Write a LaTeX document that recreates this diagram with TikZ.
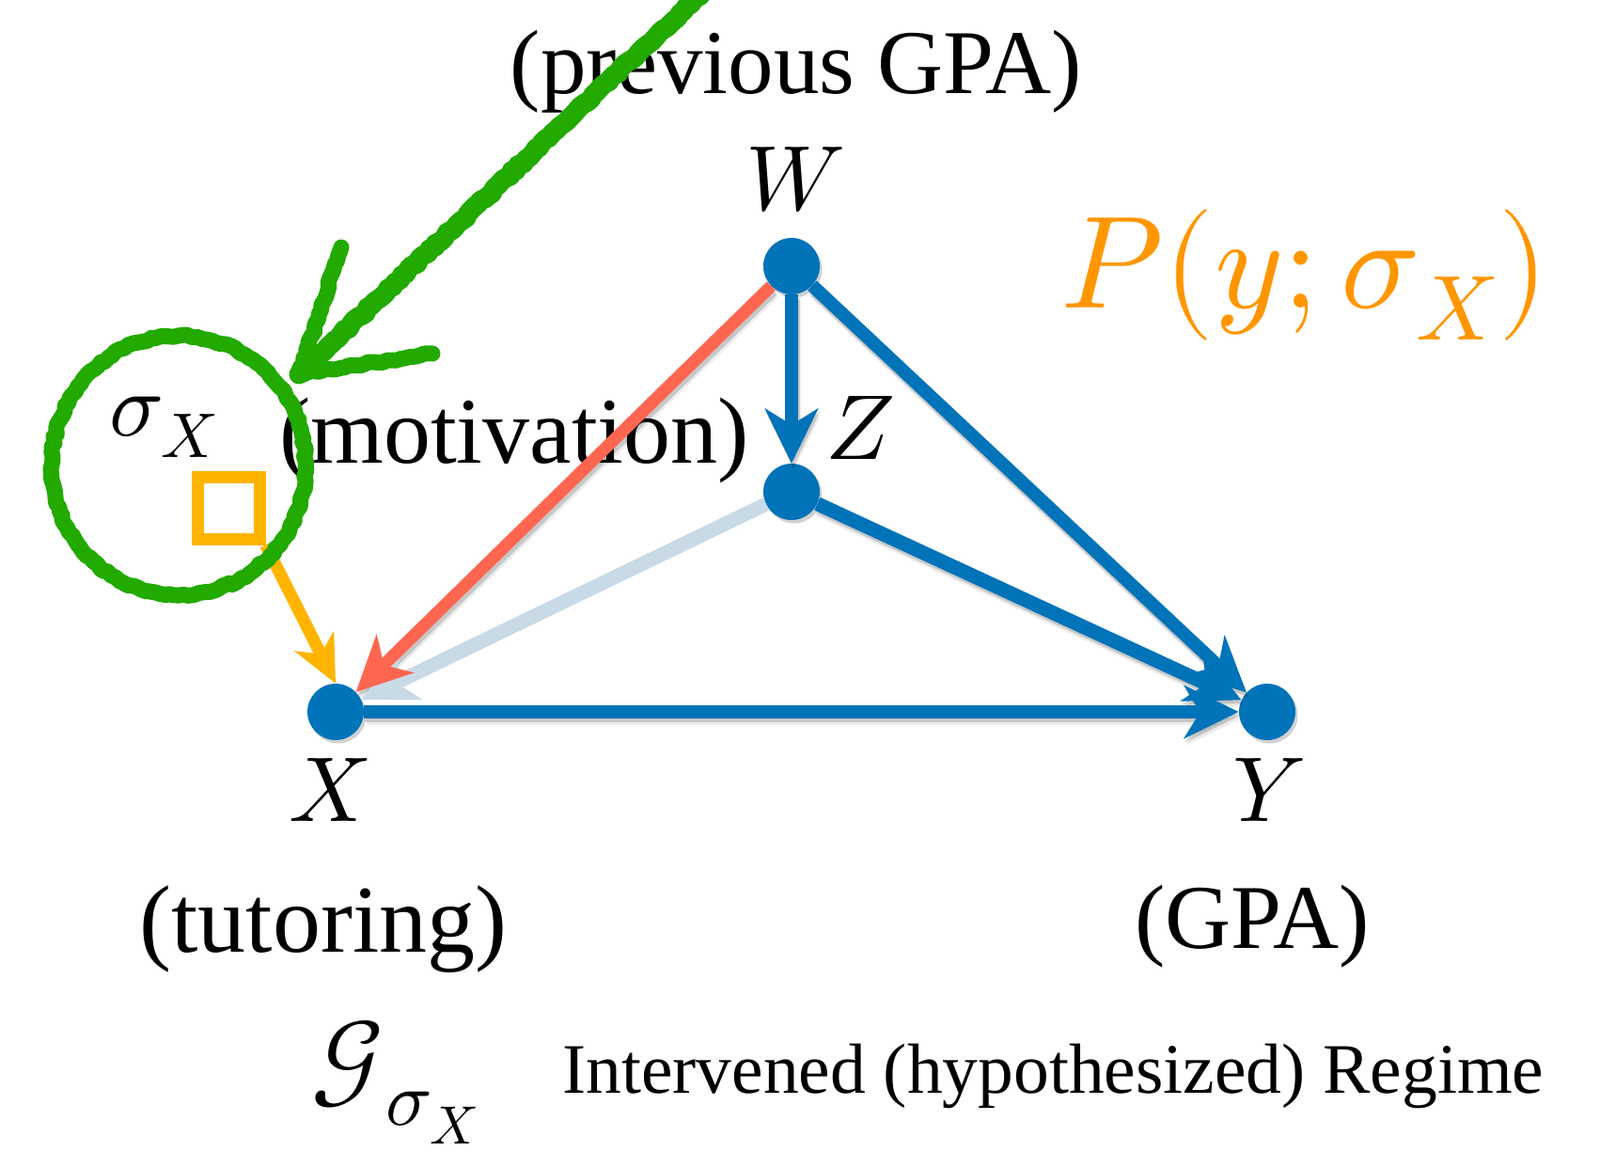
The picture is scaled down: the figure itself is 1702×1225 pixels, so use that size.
\documentclass[tikz,border=0pt]{standalone}
\usepackage{fontspec}
\usepackage{unicode-math}
\setmainfont{Liberation Serif}
\setmathfont{Latin Modern Math}
\usetikzlibrary{arrows.meta,shadows,decorations.pathmorphing}

\definecolor{nodeblue}{RGB}{0,115,185}
\definecolor{edgered}{RGB}{255,102,80}
\definecolor{ptext}{RGB}{255,150,0}
\definecolor{sqorange}{RGB}{255,180,0}
\definecolor{chalk}{RGB}{34,170,0}
\definecolor{fadeblue}{RGB}{200,218,230}

\begin{document}
\begin{tikzpicture}[x=1pt,y=-1pt,
  dot/.style={circle,fill=nodeblue,minimum size=60pt,inner sep=0pt,
    drop shadow={shadow xshift=2.5pt,shadow yshift=-3.5pt,opacity=0.3,fill=black!60}},
  lbl/.style={inner sep=0pt,anchor=base},
  vlbl/.style={inner sep=0pt,anchor=base,font=\fontsize{98}{98}\selectfont},
  mlbl/.style={inner sep=0pt,anchor=base west},
  edgearrow/.style={line width=14pt,-{Stealth[length=58pt,width=56pt,inset=17pt]}},
  edgeshadowA/.style={edgearrow,black,opacity=0.16,transform canvas={shift={(1.5pt,-4pt)}}},
  edgeshadowB/.style={edgearrow,black,opacity=0.07,transform canvas={shift={(2.5pt,-7pt)}}},
  chalkline/.style={chalk,line width=17pt,line cap=round,line join=round,
    decorate,decoration={random steps,segment length=5pt,amplitude=1.5pt}},
]
\useasboundingbox (0,0) rectangle (1702,1225);

% texts
\node[lbl,font=\fontsize{97}{97}\selectfont] (prev) at (847,100) {(previous GPA)};
\node[lbl,font=\fontsize{100}{100}\selectfont] (mot) at (547,492) {(motivation)};
\node[lbl,font=\fontsize{102}{102}\selectfont] (tut) at (344,1012) {(tutoring)};
\node[lbl,font=\fontsize{97}{97}\selectfont] (gpa) at (1332,1008) {(GPA)};
\node[vlbl] (Wl) at (846,223) {$W$};
\node[vlbl] (Zl) at (915,488) {$Z$};
\node[vlbl] (Xl) at (351,873) {$X$};
\node[vlbl] (Yl) at (1350,873) {$Y$};
\node[mlbl,font=\fontsize{96}{96}\selectfont] (sig) at (116,463) {$\sigma_X$};
\node[mlbl,text=ptext,font=\fontsize{140}{140}\selectfont] (P) at (1128,327) {$P(y;\sigma_X)$};
\node[mlbl,font=\fontsize{112}{112}\selectfont] (G) at (331,1163) {$\mathcal{G}$};
\node[mlbl,font=\fontsize{82}{82}\selectfont] (Gs) at (410,1196) {$\sigma_X$};
\node[mlbl,font=\fontsize{75.5}{75.5}\selectfont] (reg) at (598,1162) {Intervened (hypothesized) Regime};

% nodes
\node[dot] (W) at (842,283) {};
\node[dot] (Z) at (842,523) {};
\node[dot] (X) at (357,757) {};
\node[dot] (Y) at (1348,757) {};

% edge shadows
\foreach \a/\b in {W/X,W/Z,W/Y,Z/Y,X/Y}{
  \draw[edgeshadowB] (\a) -- (\b);
  \draw[edgeshadowA] (\a) -- (\b);
}

% edges
\draw[edgearrow,fadeblue,line width=15pt] (Z) -- (X);
\draw[edgearrow,edgered,line width=13pt] (W) -- (X);
\draw[edgearrow,nodeblue] (W) -- (Z);
\draw[edgearrow,nodeblue] (W) -- (Y);
\draw[edgearrow,nodeblue,line width=15pt] (Z) -- (Y);
\draw[edgearrow,nodeblue] (X) -- (Y);

% intervention square
\node[draw=sqorange,line width=13pt,minimum size=66pt,inner sep=0pt] (sq) at (243,540) {};
\draw[sqorange,line width=13pt,-{Stealth[length=50pt,width=46pt,inset=15pt]}] (sq.south east) -- (X.north);

% chalk annotation
\draw[chalkline] (190,495) ellipse [x radius=135, y radius=138];
\coordinate (gtop) at (770,-30);
\coordinate (gtip) at (318,398);
\coordinate (gw1) at (363,263);
\coordinate (gw2) at (460,376);
\draw[chalkline,line width=21pt] (gtop) -- (gtip);
\draw[chalkline] (gw1) -- (gtip) -- (gw2);
\end{tikzpicture}
\end{document}
